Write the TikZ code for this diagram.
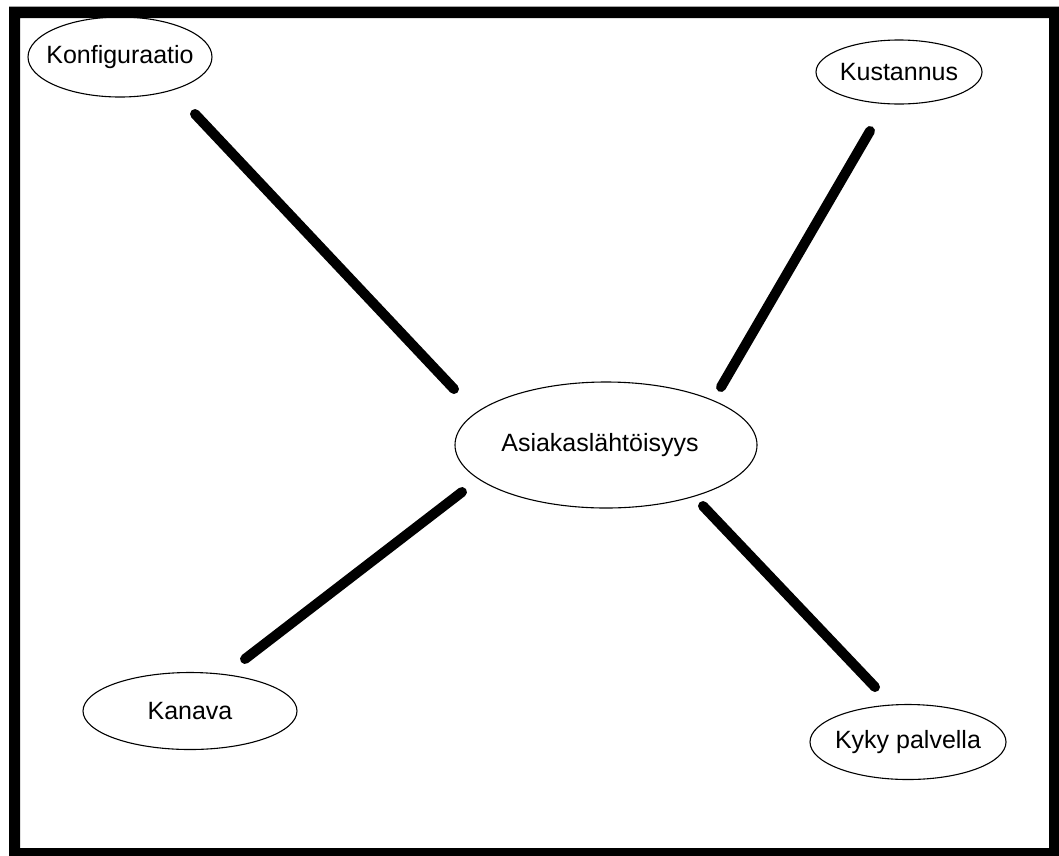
\documentclass[tikz,border=0pt]{standalone}
\usepackage{fontspec}
\setmainfont{Liberation Sans}
\usetikzlibrary{shapes.geometric}
\begin{document}
\begin{tikzpicture}[x=1pt,y=-1pt,
  bubble/.style={ellipse,draw,line width=1.1pt,inner sep=0pt,font=\fontsize{25}{25}\selectfont},
  link/.style={line width=10pt,line cap=round}]
\useasboundingbox (0,0) rectangle (1059,855);
\fill[black,even odd rule] (9,6.5) rectangle (1065,860) (20,18) rectangle (1049,848);
\node[bubble,minimum width=184pt,minimum height=80pt] (konf) at (120,57) {\makebox[0pt]{Konfiguraatio}};
\node[bubble,minimum width=166pt,minimum height=64pt] (kust) at (899,72) {\makebox[0pt]{Kustannus}};
\node[bubble,minimum width=302pt,minimum height=126pt] (asia) at (606,445) {\makebox[0pt]{\hspace*{-12pt}Asiakaslähtöisyys}};
\node[bubble,minimum width=214pt,minimum height=77pt] (kana) at (190,711) {\makebox[0pt]{Kanava}};
\node[bubble,minimum width=196pt,minimum height=75pt] (kyky) at (908,742) {\makebox[0pt]{Kyky palvella}};
\coordinate (k1) at (195,114);
\coordinate (k2) at (454,389);
\coordinate (u1) at (870,131);
\coordinate (u2) at (721,387);
\coordinate (n1) at (462,492);
\coordinate (n2) at (245,659);
\coordinate (p1) at (703,506);
\coordinate (p2) at (875,687);
\draw[link] (k1) -- (k2);
\draw[link] (u1) -- (u2);
\draw[link] (n1) -- (n2);
\draw[link] (p1) -- (p2);
\end{tikzpicture}
\end{document}
